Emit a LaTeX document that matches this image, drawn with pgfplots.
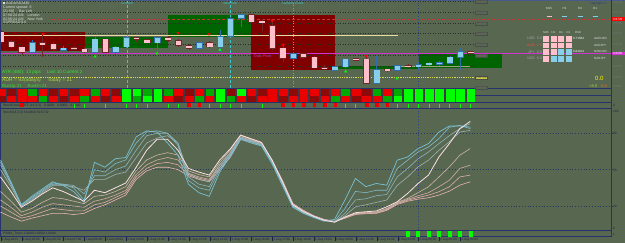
\documentclass[border=0pt]{standalone}
\usepackage{fontspec}
\setmainfont{Liberation Sans}
\usepackage{pgfplots}
\pgfplotsset{compat=1.18}
\usepackage{pgfplotstable}
\newcommand\fs[1]{\fontsize{#1}{#1}\selectfont}

\definecolor{bg}{RGB}{88,104,80}
\definecolor{navy}{RGB}{38,50,108}
\definecolor{boxred}{RGB}{128,0,0}
\definecolor{boxgreen}{RGB}{0,100,0}
\definecolor{bullf}{RGB}{135,206,235}
\definecolor{bulle}{RGB}{50,110,170}
\definecolor{bearf}{RGB}{255,192,203}
\definecolor{beare}{RGB}{110,40,40}
\definecolor{cR}{RGB}{235,0,0}
\definecolor{cD}{RGB}{140,10,10}
\definecolor{cG}{RGB}{0,170,0}
\definecolor{cB}{RGB}{0,255,0}
\definecolor{lc1}{RGB}{120,192,212}
\definecolor{lc2}{RGB}{128,186,200}
\definecolor{lc3}{RGB}{140,180,188}
\definecolor{lc4}{RGB}{158,176,176}
\definecolor{lw}{RGB}{252,224,228}
\definecolor{lp1}{RGB}{205,180,165}
\definecolor{lp2}{RGB}{212,172,162}
\definecolor{lp3}{RGB}{222,172,170}
\definecolor{lp4}{RGB}{236,178,184}
\definecolor{cyanl}{RGB}{60,200,205}
\definecolor{magl}{RGB}{210,50,210}
\definecolor{txt}{RGB}{225,225,225}
\definecolor{grn}{RGB}{50,230,50}
\definecolor{lbl}{RGB}{28,34,70}

\pgfplotsset{candle/.style={only marks, mark=*, mark size=0.01pt,
  mark options={draw opacity=0, fill opacity=0},
  error bars/y dir=both, error bars/y explicit, error bars/error mark=none}}

\pgfplotstableread{
i c1 c2 c3 c4 w p1 p2 p3 p4
0 58 56 54 50 44 32 25 20 15
1 40 39 38 36 32 24 19 15 11
2 21 21 20 20 19 15 12 10 7.5
3 28 27 26 25 24 18 15 12 10
4 34 33 32 31 30 23 19 15 12
5 40 39 38 37 35 27 22 18 14
6 37 38 38 37 32 26 21 17 14
7 32 35 37 36 28 24 20 16 13
8 23 25 30 33 24 22 19 16 14
9 56 50 45 42 33 28 24 21 18
10 52 48 45 42 31 29 26 23 21
11 59 55 50 46 35 32 29 27 25
12 60 58 53 48 39 36 33 31 29
13 77 72 66 60 52 49 46 44 42
14 82 81 78 72 66 58 54 51 49
15 81 82 80 76 75 62 58 55 52
16 72 80 80 78 75 64 60 56 52
17 62 70 72 72 66 62 58 54 50
18 38 41 44 47 51 49 47 46 45
19 31 35 38 42 48 46 44 43 42
20 28 33 36 40 45.5 44 42 41 40
21 48 50 52 54 58 56 54 52 50
22 61 62 63 64 67 66 64 62 60
23 75 76 76 77 78.5 78 77 76 75
24 72 73 73.5 74 75.5 75 74.5 74 73
25 69.5 70 70.5 71 72.5 72 71.5 71 70.5
26 55 56 56.5 57 58 58 58 58 57.5
27 37 38 39 39.5 40 40.5 41 41 41
28 19 19.5 20 20.5 21 21.5 22 22 22
29 14 14.5 15 15 15.5 16 16 16.5 16.5
30 10.5 10.8 11 11.2 11.5 11.7 11.8 12 12
31 7.5 7.8 8 8.2 8.3 8.5 8.6 8.8 9
32 9 7.5 7 6.8 6.7 6.8 7 7.2 7.5
33 25 18 14 12 11 10.5 10.3 10 10
34 42.7 32 25 19.4 14.5 14 13.8 13.5 13
35 36 31 26 21 15.3 14.8 14.3 14 13.7
36 38.6 33 28.5 23 15.9 15 14.5 14.2 14
37 37.2 33 29.5 25 19.4 18 17.5 17 16.4
38 57.8 51 44 37 23.5 23 22.5 22 21.3
39 60.5 57.8 51 44 30.4 26.3 25.5 24.8 24
40 67.4 64.6 59 52.3 38.6 31 28.5 27 25.7
41 71.5 68.7 64.6 57.8 45.5 35.9 31 29 26.8
42 81 75.6 71.5 66 60.5 44 35.9 31.8 29
43 86 85 78 73 71.5 52.3 41.3 35.9 32.3
44 86 86.5 83.8 81 83.8 61.9 51 44 37.2
45 85 83.8 88 82.4 89.8 67.4 53.7 45.5 40
}\stoch

\pgfplotstableread{
i bt bb wt wb
3 42.7 52.3 40 53
6 48.3 50 46 51
9 39.3 52.3 37 53
11 47.3 52.3 46 54
12 37.7 46.7 35.7 48
15 37.7 42.7 36 51.7
19 42.7 48.3 41 49
21 36.7 46.7 30 51.7
22 19 36 17 37
23 15 18.3 6.7 26.7
28 54 58.3 52 60
32 66.7 70 65 71
33 59.3 66.7 58 68
36 70 83.3 56 84
38 65.7 70 63 76
40 65 66.7 62 71
41 63.3 64.7 62 66
42 62.7 64.3 61 66
43 57.3 63.3 56 64
44 51.7 57.3 48.3 70
}\bull

\pgfplotstableread{
i bt bb wt wb
0 32 41.7 30 44
1 41.7 46.7 40 48
2 47.3 52.3 46 55
4 43 44.3 35 57
5 44.3 49.3 42 51
7 48 49 46 50
8 49.3 51.7 47 53
10 39.3 52.3 37 53
13 38 39 37 41.7
14 40 42.7 38 46
16 37.7 40 36 42
17 40.7 45 39 47
18 46 48.3 44 50
20 42.7 46.7 41 48
24 15 21.7 14 23
25 21.5 22.5 19.3 30.7
26 25.7 48.3 20 50
27 48.3 58.3 43.3 61.7
29 54 57.3 53 59
30 57.3 67.7 56 69
31 67.8 68.8 65 70
34 59 60 58 61
35 59.3 83.3 55 84.5
37 69.5 70.5 68 72
39 65.7 66.7 64 68
45 52 53 51 54
}\bear

\pgfplotstableread{
i r1 r2
0 R D
1 D R
2 R R
3 G R
4 R G
5 D R
6 R D
7 D R
8 R G
9 G R
10 R D
11 D R
12 B B
13 B G
14 G B
15 B B
16 G R
17 R D
18 D R
19 R G
20 G R
21 B B
22 D G
23 B R
24 R D
25 D R
26 R R
27 R D
28 D R
29 R R
30 R D
31 D R
32 R G
33 G R
34 R D
35 D R
36 G R
37 R G
38 G B
39 B B
40 B B
41 B B
42 B B
43 B B
44 B B
45 B B
}\strips

\pgfplotstableread{
i y
7 105.6
8 105.6
10 105.6
12 105.6
13 105.6
14 105.6
16 105.6
17 105.6
20 105.6
21 105.6
22 105.6
23 105.6
25 105.6
33 105.6
34 105.6
38 105.6
39 105.6
40 105.6
41 105.6
42 105.6
43 105.6
44 105.6
45 105.6
}\gticks

\pgfplotstableread{
i y
2 104.6
18 104.6
19 104.6
27 104.6
28 104.6
29 104.6
30 104.6
31 104.6
32 104.6
35 104.6
36 104.6
37 104.6
}\rticks

\pgfplotstableread{
i y
39 233.6
40 233.6
41 233.6
42 233.6
43 233.6
44 233.6
45 233.6
}\btrend

\pgfplotstableread{
x y
43 34
178 33
209 34
272 20.5
283 45
366 56
}\darr

\pgfplotstableread{
x y
95 56.5
157 53.5
220 50
345.7 71.5
397 78.5
}\uarr

\begin{document}
\begin{tikzpicture}
\fill[bg] (0,0) rectangle (625pt,243pt);

\begin{axis}[at={(0pt,0pt)}, anchor=south west, scale only axis,
  width=625pt, height=243pt, xmin=0, xmax=625, ymin=0, ymax=243,
  y dir=reverse, hide axis, clip=false]

% session boxes
\addplot[fill=boxred, draw=none] coordinates {(0,32) (85,32) (85,51) (0,51)} --cycle;
\addplot[fill=boxgreen, draw=none] coordinates {(85,36.7) (168,36.7) (168,48.3) (85,48.3)} --cycle;
\addplot[fill=boxgreen, draw=none] coordinates {(168,15) (250.5,15) (250.5,36.7) (168,36.7)} --cycle;
\addplot[fill=boxred, draw=none] coordinates {(250.5,15) (335,15) (335,70) (250.5,70)} --cycle;
\addplot[fill=boxgreen, draw=none] coordinates {(335,66.3) (418.5,66.3) (418.5,69.5) (335,69.5)} --cycle;
\addplot[fill=boxgreen, draw=none] coordinates {(418.5,53.5) (502,53.5) (502,68.3) (418.5,68.3)} --cycle;

% grid dotted lines
\addplot[black!55!bg, dotted, line width=0.5pt] coordinates {(0,1.7) (474,1.7)};
\addplot[black!55!bg, dotted, line width=0.5pt] coordinates {(0,12.3) (474,12.3)};
\addplot[black!55!bg, dotted, line width=0.5pt] coordinates {(0,23.3) (474,23.3)};
\addplot[black!55!bg, dotted, line width=0.5pt] coordinates {(0,33.3) (474,33.3)};
\addplot[black!55!bg, dotted, line width=0.5pt] coordinates {(0,44.3) (474,44.3)};
\addplot[black!55!bg, dotted, line width=0.5pt] coordinates {(0,55.7) (474,55.7)};
\addplot[black!55!bg, dotted, line width=0.5pt] coordinates {(0,66.7) (474,66.7)};

% horizontal level lines
\addplot[color={rgb,255:red,232;green,220;blue,160}, line width=0.9pt] coordinates {(0,35) (398,35)};
\addplot[color={rgb,255:red,200;green,50;blue,50}, densely dashed, line width=0.6pt] coordinates {(52,19) (612,19)};
\addplot[magl, line width=0.8pt] coordinates {(0,53.3) (612,53.3)};
\addplot[color={rgb,255:red,215;green,215;blue,80}, densely dotted, line width=0.8pt] coordinates {(0,77.3) (474,77.3)};
\addplot[color={rgb,255:red,160;green,160;blue,130}, line width=0.6pt] coordinates {(400,66.8) (470,66.8)};

% vertical session lines
\addplot[cyanl, densely dashed, line width=0.6pt] coordinates {(127,0) (127,88)};
\addplot[cyanl, densely dashed, line width=0.6pt] coordinates {(230,0) (230,88)};
\addplot[black!40!white, dotted, line width=0.6pt] coordinates {(293,0) (293,88)};
\addplot[color={rgb,255:red,50;green,65;blue,130}, dotted, line width=0.7pt] coordinates {(418.6,0) (418.6,236)};

% candles: wicks
\addplot[candle, error bars/error bar style={line width=0.7pt, draw=bulle}]
  table[x expr=10.44*\thisrow{i}+1, y expr=(\thisrow{wt}+\thisrow{wb})/2, y error expr=(\thisrow{wb}-\thisrow{wt})/2] \bull;
\addplot[candle, error bars/error bar style={line width=0.7pt, draw=beare}]
  table[x expr=10.44*\thisrow{i}+1, y expr=(\thisrow{wt}+\thisrow{wb})/2, y error expr=(\thisrow{wb}-\thisrow{wt})/2] \bear;
% candles: bodies
\addplot[candle, error bars/error bar style={line width=6.8pt, draw=bulle, line cap=butt}]
  table[x expr=10.44*\thisrow{i}+1, y expr=(\thisrow{bt}+\thisrow{bb})/2, y error expr=(\thisrow{bb}-\thisrow{bt})/2+0.6] \bull;
\addplot[candle, error bars/error bar style={line width=5.4pt, draw=bullf, line cap=butt}]
  table[x expr=10.44*\thisrow{i}+1, y expr=(\thisrow{bt}+\thisrow{bb})/2, y error expr=(\thisrow{bb}-\thisrow{bt})/2] \bull;
\addplot[candle, error bars/error bar style={line width=6.8pt, draw=beare, line cap=butt}]
  table[x expr=10.44*\thisrow{i}+1, y expr=(\thisrow{bt}+\thisrow{bb})/2, y error expr=(\thisrow{bb}-\thisrow{bt})/2+0.6] \bear;
\addplot[candle, error bars/error bar style={line width=5.4pt, draw=bearf, line cap=butt}]
  table[x expr=10.44*\thisrow{i}+1, y expr=(\thisrow{bt}+\thisrow{bb})/2, y error expr=(\thisrow{bb}-\thisrow{bt})/2] \bear;

% arrows
\addplot[only marks, mark=triangle*, mark size=1.4pt, color=red, mark options={rotate=180}] table[x=x,y=y] \darr;
\addplot[only marks, mark=triangle*, mark size=1.4pt, color=cB] table[x=x,y=y] \uarr;

% strip bands
\addplot[fill={rgb,255:red,70;green,55;blue,62}, draw=none] coordinates {(0,89.3) (474,89.3) (474,101.9) (0,101.9)} --cycle;
\addplot[scatter, only marks, scatter src=explicit symbolic, mark size=2.75pt,
  scatter/classes={R={mark=square*, draw=cR, fill=cR, xscale=1.4},
                   D={mark=square*, draw=cD, fill=cD, xscale=1.4},
                   G={mark=square*, draw=cG, fill=cG, xscale=1.4},
                   B={mark=square*, draw=cB, fill=cB, xscale=1.4}}]
  table[x expr=10.44*\thisrow{i}+1, y expr=92.3, meta=r1] \strips;
\addplot[scatter, only marks, scatter src=explicit symbolic, mark size=2.5pt,
  scatter/classes={R={mark=square*, draw=cR, fill=cR, xscale=1.55},
                   D={mark=square*, draw=cD, fill=cD, xscale=1.55},
                   G={mark=square*, draw=cG, fill=cG, xscale=1.55},
                   B={mark=square*, draw=cB, fill=cB, xscale=1.55}}]
  table[x expr=10.44*\thisrow{i}+1, y expr=99, meta=r2] \strips;

% mini signal panel
\addplot[only marks, mark=|, mark size=2pt, color=cB, mark options={line width=1pt}]
  table[x expr=10.44*\thisrow{i}+1, y=y] \gticks;
\addplot[only marks, mark=square*, mark size=1.3pt, color=cR]
  table[x expr=10.44*\thisrow{i}+1, y=y] \rticks;
% bottom trend panel
\addplot[only marks, mark=square*, mark size=2.5pt, color=cB, mark options={xscale=0.6}]
  table[x expr=10.44*\thisrow{i}+0.5, y=y] \btrend;

% panel borders
\addplot[color={rgb,255:red,70;green,90;blue,140}, line width=1pt] coordinates {(0,0.5) (625,0.5)};
\addplot[navy, line width=1.3pt] coordinates {(0,88.6) (612,88.6)};
\addplot[navy, line width=0.6pt] coordinates {(0,95.7) (612,95.7)};
\addplot[navy, line width=0.9pt] coordinates {(0,102.3) (612,102.3)};
\addplot[navy, line width=1.1pt] coordinates {(0,108.8) (612,108.8)};
\addplot[navy, line width=1.1pt] coordinates {(0,230.6) (612,230.6)};
\addplot[navy, line width=0.9pt] coordinates {(0,236.6) (612,236.6)};
\addplot[navy, line width=0.8pt] coordinates {(611.7,0) (611.7,237)};
\addplot[navy, line width=0.8pt] coordinates {(0.4,0) (0.4,237)};

% right price-level boxes
\addplot[fill=red, draw=none] coordinates {(612,17.4) (625,17.4) (625,20.6) (612,20.6)} --cycle;
\addplot[fill=magl, draw=none] coordinates {(612,51.6) (625,51.6) (625,55) (612,55)} --cycle;

% texts top-left
\node[anchor=west, inner sep=0, font=\fs{3.6}, text=txt] at (axis cs:3,3.3) {\rule{2pt}{2pt} AUDUSD,M30};
\node[anchor=west, inner sep=0, font=\fs{3.6}, text=txt] at (axis cs:3,7.4) {Current spread: 6};
\node[anchor=west, inner sep=0, font=\fs{3.6}, text=txt] at (axis cs:3,11.2) {[21:58]\hspace{5pt}Bar Left};
\node[anchor=west, inner sep=0, font=\fs{3.6}, text=txt] at (axis cs:3,15) {07:58:24 AM\hspace{4pt}London};
\node[anchor=west, inner sep=0, font=\fs{3.6}, text=txt] at (axis cs:3,18.8) {02:58:24 AM\hspace{4pt}New York};
\node[anchor=west, inner sep=0, font=\fs{3.6}, text=txt] at (axis cs:3,22.7) {SSPREAD 0.6};

\node[anchor=west, inner sep=0, font=\fs{4.6}, text=grn] at (axis cs:2,72.7) {ATR (480): 13 pips\hspace{6pt}Last 10 Current 2};
\node[anchor=west, inner sep=0, font=\fs{5}, text={rgb,255:red,170;green,220;blue,60}] at (axis cs:2,80.2) {ADR = 93(5days)\hspace{7pt}Today = 21};
\node[anchor=west, inner sep=0, font=\fs{4.3}, text=grn] at (axis cs:2,86) {RunUp 21\hspace{6pt}RunDn 21};

\node[inner sep=0, font=\fs{3.4}, text=cyanl] at (axis cs:127,3.2) {London};
\node[inner sep=0, font=\fs{3.4}, text=cyanl] at (axis cs:230,3.2) {NewYork};
\node[inner sep=0, font=\fs{3.4}, text=cyanl] at (axis cs:293,3.2) {London Close};
\node[anchor=north west, inner sep=0, font=\fs{3.6}, text=magl] at (axis cs:254,54.3) {Daily Pivot};

% price label boxes
\node[draw=black!70, fill=bg, inner sep=0.5pt, font=\fs{3}, text=black!60] at (axis cs:481,1.9) {0.67400};
\node[draw=black!70, fill=bg, inner sep=0.5pt, font=\fs{3}, text=black!60] at (axis cs:481,12.3) {0.67300};
\node[draw=black!70, fill=bg, inner sep=0.5pt, font=\fs{3}, text=black!60] at (axis cs:481,23.3) {0.67200};
\node[draw=black!70, fill=bg, inner sep=0.5pt, font=\fs{3}, text=black!60] at (axis cs:481,33.3) {0.67100};
\node[draw=black!70, fill=bg, inner sep=0.5pt, font=\fs{3}, text=black!60] at (axis cs:481,44.3) {0.67000};
\node[draw=black!70, fill=bg, inner sep=0.5pt, font=\fs{3}, text=black!60] at (axis cs:481,55.7) {0.66900};
\node[draw=black!70, fill={rgb,255:red,200;green,200;blue,70}, inner sep=0.5pt, font=\fs{3}, text=black!70] at (axis cs:481,77.3) {0.66700};
\node[draw=black!70, fill=bg, inner sep=0.5pt, font=\fs{3}, text=black!60] at (axis cs:481,87.6) {0.66600};

% right axis labels
\node[anchor=west, inner sep=0, font=\fs{3}, text=black!55] at (axis cs:613,2) {0.6745};
\node[anchor=west, inner sep=0, font=\fs{3}, text=black!55] at (axis cs:613,12.3) {0.6735};
\node[anchor=west, inner sep=0, font=\fs{3}, text=black!55] at (axis cs:613,23.3) {0.6725};
\node[anchor=west, inner sep=0, font=\fs{3}, text=black!55] at (axis cs:613,33.3) {0.6715};
\node[anchor=west, inner sep=0, font=\fs{3}, text=black!55] at (axis cs:613,44.3) {0.6705};
\node[anchor=west, inner sep=0, font=\fs{3}, text=black!55] at (axis cs:613,66.7) {0.6685};
\node[anchor=west, inner sep=0, font=\fs{3}, text=black!55] at (axis cs:613,77.3) {0.6675};
\node[anchor=west, inner sep=0, font=\fs{3}, text=black!55] at (axis cs:613,86) {0.6665};
\node[anchor=west, inner sep=0, font=\fs{3}, text=white] at (axis cs:613,19) {0.6728};
\node[anchor=west, inner sep=0, font=\fs{3}, text=white] at (axis cs:613,53.3) {0.6695};
\node[anchor=west, inner sep=0, font=\fs{3.2}, text=lbl] at (axis cs:613,111.5) {100};
\node[anchor=west, inner sep=0, font=\fs{3.2}, text=lbl] at (axis cs:613,133.3) {80};
\node[anchor=west, inner sep=0, font=\fs{3.2}, text=lbl] at (axis cs:613,170) {50};
\node[anchor=west, inner sep=0, font=\fs{3.2}, text=lbl] at (axis cs:613,206) {20};
\node[anchor=west, inner sep=0, font=\fs{3.2}, text=lbl] at (axis cs:613,228.5) {0};
\node[anchor=west, inner sep=0, font=\fs{3.2}, text=lbl] at (axis cs:613,234) {1};
\node[anchor=west, inner sep=0, font=\fs{3.2}, text=lbl] at (axis cs:613,105) {0};

% panel labels
\node[anchor=west, inner sep=0, font=\fs{3.3}, text=lbl] at (axis cs:3,105.4) {StochCross\_MTF (14,3,3)\hspace{3pt}0.0000\hspace{3pt}0.0000\hspace{3pt}0.0000};
\node[anchor=west, inner sep=0, font=\fs{3.3}, text=lbl] at (axis cs:3,112.3) {Stoch(14,3,3) 50.0840 50.5732};
\node[anchor=west, inner sep=0, font=\fs{3.3}, text=lbl] at (axis cs:3,233.6) {PSMA\_Trues 1.0000 1.0000 1.0000};

% right info panel
\node[anchor=west, inner sep=0, font=\fs{3.2}, text={rgb,255:red,40;green,60;blue,130}] at (axis cs:590,3.2) {copyright \textcopyright};
\node[inner sep=0, font=\fs{3}, text=txt] at (axis cs:549,8.5) {M15};
\node[inner sep=0, font=\fs{3}, text=txt] at (axis cs:564.5,8.5) {H1};
\node[inner sep=0, font=\fs{3}, text=txt] at (axis cs:580,8.5) {H4};
\node[inner sep=0, font=\fs{3}, text=txt] at (axis cs:595,8.5) {D1};
\addplot[bearf, line width=1.3pt] coordinates {(546.5,16.6) (551.5,16.6)};
\addplot[bullf, line width=1.3pt] coordinates {(562,16.6) (567,16.6)};
\addplot[bullf, line width=1.3pt] coordinates {(577.5,16.6) (582.5,16.6)};
\addplot[bullf, line width=1.3pt] coordinates {(592.5,16.6) (597.5,16.6)};

\node[inner sep=0, font=\fs{2.8}, text=txt] at (axis cs:546,32.5) {M15};
\node[inner sep=0, font=\fs{2.8}, text=txt] at (axis cs:553.5,32.5) {H1};
\node[inner sep=0, font=\fs{2.8}, text=txt] at (axis cs:561,32.5) {H4};
\node[inner sep=0, font=\fs{2.8}, text=txt] at (axis cs:568.5,32.5) {D1};
\node[inner sep=0, font=\fs{2.8}, text=txt] at (axis cs:578,32.5) {RSD};

\node[anchor=east, inner sep=0, font=\fs{3.6}, text=black!35] at (axis cs:542,38.5) {USD\hspace{2pt}5.0};
\node[anchor=east, inner sep=0, font=\fs{3.6}, text={rgb,255:red,255;green,70;blue,70}] at (axis cs:542,45.2) {AUD\hspace{2pt}1.0};
\node[anchor=east, inner sep=0, font=\fs{3.6}, text=black!35] at (axis cs:542,51.9) {JPY\hspace{2pt}6.0};
\node[anchor=east, inner sep=0, font=\fs{3.6}, text=black!35] at (axis cs:542,58.6) {NZD\hspace{2pt}6.0};

\addplot[only marks, mark=square*, mark size=2.4pt, color=bearf] coordinates {
 (546,38.5) (553.5,38.5) (561,38.5) (568.5,38.5)
 (546,45.2) (553.5,45.2) (561,45.2) (568.5,45.2)
 (546,51.9) (553.5,51.9) (546,58.6)};
\addplot[only marks, mark=square*, mark size=2.4pt, color=bullf] coordinates {
 (561,51.9) (568.5,51.9) (553.5,58.6) (561,58.6) (568.5,58.6)};

\node[anchor=west, inner sep=0, font=\fs{3}, text=white] at (axis cs:573,38.5) {0.71584};
\node[anchor=west, inner sep=0, font=\fs{3}, text=white] at (axis cs:573,51.9) {0.84104};
\node[anchor=west, inner sep=0, font=\fs{3}, text=txt] at (axis cs:594,38.5) {AUDUSD};
\node[anchor=west, inner sep=0, font=\fs{3}, text=txt] at (axis cs:594,45.2) {AUDJPY};
\node[anchor=west, inner sep=0, font=\fs{3}, text=txt] at (axis cs:594,51.9) {NZDUSD};
\node[anchor=west, inner sep=0, font=\fs{3}, text=txt] at (axis cs:594,58.6) {NZDJPY};

\node[anchor=west, inner sep=0, font=\fs{6}, text=yellow] at (axis cs:595,78.5) {0.0};
\node[anchor=west, inner sep=0, font=\fs{4}, text={rgb,255:red,160;green,210;blue,60}] at (axis cs:589,86) {+8.9};
\node[anchor=west, inner sep=0, font=\fs{4}, text={rgb,255:red,230;green,110;blue,40}] at (axis cs:601,86) {0.0};
\end{axis}

% stochastic ribbon panel
\begin{axis}[at={(0pt,12.7pt)}, anchor=south west, scale only axis,
  width=625pt, height=121.3pt, xmin=-0.048, xmax=59.82, ymin=0, ymax=100,
  hide axis, clip=true]
\addplot[color={rgb,255:red,40;green,55;blue,95}, dotted, line width=0.8pt] coordinates {(-1,80) (58.55,80)};
\addplot[color={rgb,255:red,40;green,55;blue,95}, dotted, line width=0.8pt] coordinates {(-1,50) (58.55,50)};
\addplot[color={rgb,255:red,40;green,55;blue,95}, dotted, line width=0.8pt] coordinates {(-1,20) (58.55,20)};
\addplot[lp4, line width=0.6pt] table[x=i, y=p4] \stoch;
\addplot[lp3, line width=0.6pt] table[x=i, y=p3] \stoch;
\addplot[lp2, line width=0.6pt] table[x=i, y=p2] \stoch;
\addplot[lp1, line width=0.6pt] table[x=i, y=p1] \stoch;
\addplot[lc4, line width=0.6pt] table[x=i, y=c4] \stoch;
\addplot[lc3, line width=0.6pt] table[x=i, y=c3] \stoch;
\addplot[lc2, line width=0.6pt] table[x=i, y=c2] \stoch;
\addplot[lc1, line width=0.7pt] table[x=i, y=c1] \stoch;
\addplot[lw, line width=0.8pt] table[x=i, y=w] \stoch;
\end{axis}

% time axis
\foreach \k/\lab in {0/1 Aug 2023,1/1 Aug 05:00,2/1 Aug 06:00,3/1 Aug 07:00,4/1 Aug 08:00,5/1 Aug 09:00,6/1 Aug 10:00,7/1 Aug 11:00,8/1 Aug 12:00,9/1 Aug 13:00,10/1 Aug 14:00,11/1 Aug 15:00,12/1 Aug 16:00,13/1 Aug 17:00,14/1 Aug 18:00,15/1 Aug 19:00,16/1 Aug 20:00,17/1 Aug 21:00,18/1 Aug 22:00,19/1 Aug 23:00,20/2 Aug 00:00,21/2 Aug 01:00,22/2 Aug 02:00}{
  \draw[lbl, line width=0.4pt] ({\k*20.88pt+1pt},6.4pt) -- ++(0,-4.4pt);
  \node[anchor=west, inner sep=0, font=\fs{3.1}, text=lbl] at ({\k*20.88pt+1.8pt},3pt) {\lab};
}

\pgfresetboundingbox
\path[use as bounding box] (0,0) rectangle (625pt,243pt);
\end{tikzpicture}
\end{document}
